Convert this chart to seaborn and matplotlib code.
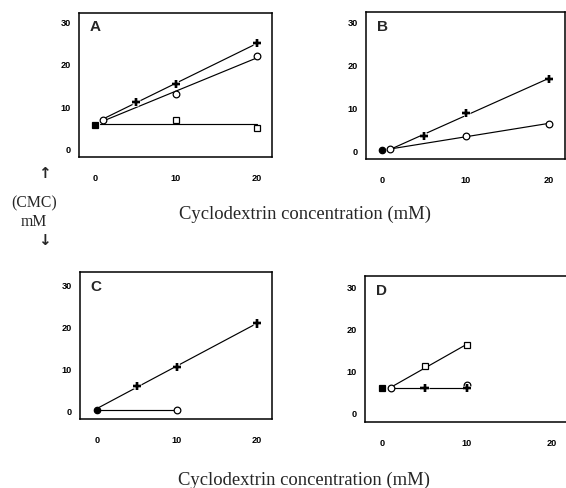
import numpy as np
import matplotlib
matplotlib.use("Agg")
import matplotlib.pyplot as plt
import matplotlib.patheffects as pe
import seaborn as sns

sns.set_style("white")
plt.rcParams['font.family'] = ['Liberation Sans', 'DejaVu Sans']

# ---------------- data ----------------
# Panel A
A_start = (0, 5.6)                       # filled square
A_circ_x = [1, 10, 20]; A_circ_y = [6.9, 12.9, 21.7]
A_plus_x = [5, 10, 20]; A_plus_y = [11.1, 15.2, 24.8]
A_sq_x = [10, 20];      A_sq_y = [6.9, 4.8]
# Panel B
B_start = (0, 0.1)                       # filled circle
B_circ_x = [1, 10, 20]; B_circ_y = [0.2, 3.2, 6.2]
B_plus_x = [5, 10, 20]; B_plus_y = [3.2, 8.7, 16.6]
# Panel C
C_start = (0, 0.1)                       # filled circle
C_circ_x = [10];        C_circ_y = [0.1]
C_plus_x = [5, 10, 20]; C_plus_y = [5.8, 10.3, 20.6]
# Panel D
D_start = (0, 5.8)                       # filled square
D_circ_x = [1, 10];     D_circ_y = [5.8, 6.5]
D_plus_x = [5, 10];     D_plus_y = [5.8, 5.8]
D_sq_x = [5, 10];       D_sq_y = [11.0, 16.1]

x_ticks = [0, 10, 20]
y_ticks = [0, 10, 20, 30]
x_label = "Cyclodextrin concentration (mM)"

# ---------------- figure ----------------
fig = plt.figure(figsize=(5.66, 4.89), dpi=100)

def make_ax(rect, letter, ylim, xlim=(-2, 21.9), right=True):
    ax = fig.add_axes(rect)
    ax.set_xlim(*xlim)
    ax.set_ylim(*ylim)
    ax.set_xticks(x_ticks)
    ax.set_yticks(y_ticks)
    for s in ax.spines.values():
        s.set_linewidth(1.1)
        s.set_color('black')
    if not right:
        ax.spines['right'].set_visible(False)
    ax.tick_params(axis='both', direction='out', length=2.5, width=1.0,
                   colors='black', labelsize=6.6)
    ax.tick_params(axis='x', pad=9)
    ax.tick_params(axis='y', pad=3.2)
    for lab in ax.get_xticklabels() + ax.get_yticklabels():
        lab.set_fontweight('bold')
    ax.text(0.055, 0.955, letter, transform=ax.transAxes, ha='left', va='top',
            fontsize=11, fontweight='bold')
    ax.grid(False)
    return ax

halo = [pe.withStroke(linewidth=3.4, foreground='white')]

def fit_line(ax, xs, ys):
    sns.regplot(x=np.array(xs, float), y=np.array(ys, float), ax=ax, scatter=False,
                ci=None, truncate=True, color='black', line_kws=dict(linewidth=0.85))

def mean_line(ax, xs, ys, x_from):
    m = float(np.mean(ys))
    sns.lineplot(x=[x_from, max(xs)], y=[m, m], ax=ax, color='black', linewidth=0.85)

def marks(ax, xs, ys, kind):
    if kind == 'plus':
        l, = ax.plot(xs, ys, ls='none', marker='+', ms=5.8, mew=1.7, color='black', zorder=5)
        l.set_path_effects(halo + [pe.Normal()])
    elif kind == 'circ':
        ax.plot(xs, ys, ls='none', marker='o', ms=4.8, mew=0.9, mfc='white', mec='black', zorder=5)
    elif kind == 'sq':
        ax.plot(xs, ys, ls='none', marker='s', ms=4.6, mew=0.9, mfc='white', mec='black', zorder=5)
    elif kind == 'fsq':
        ax.plot(xs, ys, ls='none', marker='s', ms=4.4, mew=0.9, mfc='black', mec='black', zorder=5)
    elif kind == 'fcirc':
        ax.plot(xs, ys, ls='none', marker='o', ms=4.6, mew=0.9, mfc='black', mec='black', zorder=5)

# Panel A
axA = make_ax([0.1396, 0.6769, 0.341, 0.2945], 'A', (-1.9, 31.9), (-1.98, 21.85))
mean_line(axA, [A_start[0]] + A_sq_x, [A_start[1]] + A_sq_y, 0.6)
fit_line(axA, A_circ_x, A_circ_y)
fit_line(axA, A_circ_x[:1] + A_plus_x, A_circ_y[:1] + A_plus_y)
marks(axA, [A_start[0]], [A_start[1]], 'fsq')
marks(axA, A_sq_x, A_sq_y, 'sq')
marks(axA, A_circ_x, A_circ_y, 'circ')
marks(axA, A_plus_x, A_plus_y, 'plus')

# Panel B
axB = make_ax([0.6466, 0.6728, 0.3516, 0.3006], 'B', (-2.1, 32.3), (-1.92, 21.9))
fit_line(axB, B_circ_x, B_circ_y)
fit_line(axB, B_circ_x[:1] + B_plus_x, B_circ_y[:1] + B_plus_y)
marks(axB, [B_start[0]], [B_start[1]], 'fcirc')
marks(axB, B_circ_x, B_circ_y, 'circ')
marks(axB, B_plus_x, B_plus_y, 'plus')

# Panel C
axC = make_ax([0.1413, 0.1411, 0.3392, 0.3006], 'C', (-2.14, 32.86), (-2.09, 21.9))
fit_line(axC, [C_start[0]] + C_circ_x, [C_start[1]] + C_circ_y)
fit_line(axC, [C_start[0]] + C_plus_x, [C_start[1]] + C_plus_y)
marks(axC, [C_start[0]], [C_start[1]], 'fcirc')
marks(axC, C_circ_x, C_circ_y, 'circ')
marks(axC, C_plus_x, C_plus_y, 'plus')

# Panel D
axD = make_ax([0.6449, 0.135, 0.362, 0.2986], 'D', (-2.13, 32.4), (-2.0, 22.1), right=False)
fit_line(axD, D_circ_x[:1] + D_plus_x, D_circ_y[:1] + D_plus_y)
fit_line(axD, D_circ_x[:1] + D_sq_x, D_circ_y[:1] + D_sq_y)
marks(axD, [D_start[0]], [D_start[1]], 'fsq')
marks(axD, D_sq_x, D_sq_y, 'sq')
marks(axD, D_circ_x, D_circ_y, 'circ')
marks(axD, D_plus_x, D_plus_y, 'plus')

for ax in (axA, axB, axC, axD):
    ax.set_xlabel("")
    ax.set_ylabel("")

# Figure texts
serif = ['Liberation Serif', 'DejaVu Serif']
fig.text(305 / 566, 1 - 214 / 489, x_label, ha='center', va='center',
         fontsize=13.4, family=serif)
fig.text(304 / 566, 1 - 480 / 489, x_label, ha='center', va='center',
         fontsize=13.4, family=serif)
fig.text(34 / 566, 1 - 203 / 489, "(CMC)", ha='center', va='center',
         fontsize=11.3, family=serif)
fig.text(34 / 566, 1 - 222 / 489, "mM", ha='center', va='center',
         fontsize=11.3, family=serif)
fig.text(44 / 566, 1 - 173 / 489, "\u2191", ha='center', va='center',
         fontsize=11, fontweight='bold', family=['DejaVu Sans'])
fig.text(44 / 566, 1 - 241 / 489, "\u2193", ha='center', va='center',
         fontsize=11, fontweight='bold', family=['DejaVu Sans'])

fig.savefig("out.png", dpi=100, facecolor='white')
